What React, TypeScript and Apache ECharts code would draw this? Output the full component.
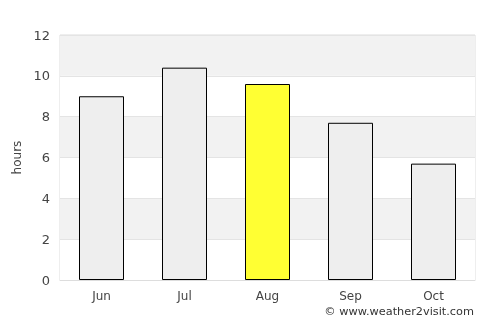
import React, { useEffect, useRef } from "react";
import * as echarts from "echarts";

const months = ["Jun", "Jul", "Aug", "Sep", "Oct"];
const hours = [9.0, 10.4, 9.6, 7.7, 5.7];
const highlightMonth = "Aug";
const yTicks = { min: 0, max: 12, interval: 2 };

export default function App() {
  const ref = useRef<HTMLDivElement>(null);
  useEffect(() => {
    if (!ref.current) return;
    const chart = echarts.init(ref.current, null, { renderer: "svg" });
    const font = "DejaVu Sans";
    chart.setOption({
      animation: false,
      textStyle: { fontFamily: font },
      grid: { left: 60, right: 25, top: 35, bottom: 45, show: true, borderColor: "#dddddd", borderWidth: 1, backgroundColor: "transparent" },
      xAxis: {
        type: "category",
        data: months,
        axisLine: { show: true, lineStyle: { color: "#dddddd" } },
        axisTick: { show: false },
        axisLabel: { color: "#444444", fontSize: 12, margin: 10, fontFamily: font },
      },
      yAxis: {
        type: "value",
        min: yTicks.min,
        max: yTicks.max,
        interval: yTicks.interval,
        name: "hours",
        nameLocation: "middle",
        nameGap: 35,
        nameTextStyle: { color: "#444444", fontSize: 12, fontFamily: font },
        axisLine: { show: false },
        axisTick: { show: false },
        axisLabel: { color: "#444444", fontSize: 13, margin: 10, fontFamily: font },
        splitLine: { show: true, lineStyle: { color: "#e4e4e4" } },
        splitArea: { show: true, areaStyle: { color: ["#ffffff", "#f2f2f2"] } },
      },
      series: [
        {
          type: "bar",
          barWidth: 45,
          data: months.map((m, i) => ({
            value: hours[i],
            itemStyle: {
              color: m === highlightMonth ? "#ffff33" : "#eeeeee",
              borderColor: "#000000",
              borderWidth: 1,
            },
          })),
        },
      ],
      graphic: [
        {
          type: "text",
          right: 26,
          top: 306,
          style: { text: "© www.weather2visit.com", fill: "#333333", fontSize: 11.3, fontFamily: font },
        },
      ],
    });
    return () => chart.dispose();
  }, []);
  return <div ref={ref} style={{ position: "fixed", left: 0, top: 0, width: 500, height: 325 }} />;
}
